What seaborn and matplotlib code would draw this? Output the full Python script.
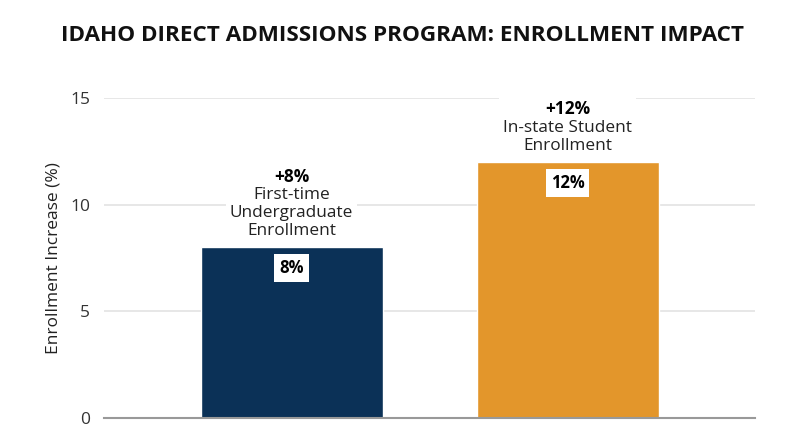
import matplotlib
matplotlib.use("Agg")
import matplotlib.pyplot as plt
from matplotlib.offsetbox import TextArea, VPacker, AnnotationBbox
import seaborn as sns
import pandas as pd

# data
categories = ["First-time Undergraduate Enrollment", "In-state Student Enrollment"]
increase = [8, 12]
top_labels = ["+8%", "+12%"]
desc_labels = ["First-time\nUndergraduate\nEnrollment", "In-state Student\nEnrollment"]
bar_colors = ["#0B3157", "#E3962B"]

sns.set_style("white")
plt.rcParams["font.family"] = ["Open Sans", "DejaVu Sans"]

df = pd.DataFrame({"category": categories, "increase": increase})

fig, ax = plt.subplots(figsize=(8, 4.47), dpi=100)
fig.subplots_adjust(left=0.13, right=0.944, top=0.78, bottom=0.065)

sns.barplot(data=df, x="category", y="increase", hue="category",
            palette=bar_colors, width=0.66, saturation=1, legend=False, ax=ax, zorder=2)

ax.set_ylim(0, 15)
ax.set_xlim(-0.68, 1.68)
ax.set_yticks([0, 5, 10, 15])
ax.yaxis.grid(True, color="#e3e3e3", linewidth=1.2, zorder=0)
ax.set_axisbelow(True)
ax.tick_params(axis="y", labelsize=12.5, colors="#333333", length=0, pad=10)
ax.set_xticks([])
ax.set_xlabel("")
ax.set_ylabel("Enrollment Increase (%)", fontsize=12.5, color="#222222", labelpad=6)
for s in ["top", "right", "left"]:
    ax.spines[s].set_visible(False)
ax.spines["bottom"].set_color("#999999")
ax.spines["bottom"].set_linewidth(1.5)

for i, v in enumerate(increase):
    # value badge inside bar
    ax.text(i, v - 0.95, f"{v}%", ha="center", va="center", fontsize=12,
            fontweight="bold", color="black", zorder=5,
            bbox=dict(facecolor="white", edgecolor="none", boxstyle="square,pad=0.3"))
    # label block above bar: bold change + description, on one white box
    head = TextArea(top_labels[i], textprops=dict(fontsize=12.4, fontweight="bold",
                                                  color="black"))
    body = TextArea(desc_labels[i], textprops=dict(fontsize=12.4, color="#222222",
                                                   multialignment="center", linespacing=1.17))
    block = VPacker(children=[head, body], align="center", pad=0, sep=1)
    ab = AnnotationBbox(block, (i, v), xybox=(0, 6), boxcoords="offset points",
                        box_alignment=(0.5, 0), frameon=True, pad=0.45,
                        bboxprops=dict(facecolor="white", edgecolor="none",
                                       boxstyle="square"), zorder=4)
    ax.add_artist(ab)

fig.suptitle("IDAHO DIRECT ADMISSIONS PROGRAM: ENROLLMENT IMPACT",
             fontsize=16.2, fontweight="bold", y=0.945, x=0.503, color="#111111")

fig.savefig("out.png", dpi=100)
